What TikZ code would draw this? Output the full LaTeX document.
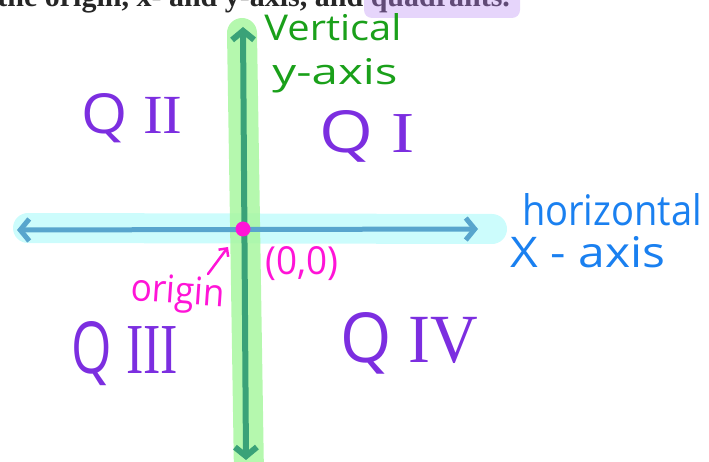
\documentclass[tikz,border=0pt]{standalone}
\usepackage{fontspec}
\setmainfont{Liberation Serif}
\newfontfamily\hand{Open Sans}
\usetikzlibrary{arrows.meta}
\definecolor{vhl}{RGB}{168,247,160}
\definecolor{hhl}{RGB}{204,252,252}
\definecolor{vline}{RGB}{58,162,120}
\definecolor{hline}{RGB}{88,165,205}
\definecolor{qpurple}{RGB}{124,46,224}
\definecolor{hgreen}{RGB}{26,160,26}
\definecolor{hblue}{RGB}{26,128,240}
\definecolor{hmag}{RGB}{255,20,215}
\definecolor{lavender}{RGB}{230,213,251}
\definecolor{quadtxt}{RGB}{96,74,118}
\newcommand\fitt[3]{\resizebox{#1pt}{#2pt}{#3}}
\begin{document}
\begin{tikzpicture}[x=1pt,y=-1pt,
  hlband/.style={line cap=round,line width=30pt},
  axisline/.style={line width=5pt,line cap=round,
    {Straight Barb[length=9pt,width=22pt]}-{Straight Barb[length=9pt,width=22pt]}},
  lbl/.style={inner sep=0pt,outer sep=0pt},
  quad/.style={lbl,text=qpurple},
]
\useasboundingbox (0,0) rectangle (709,462);
\clip (0,0) rectangle (709,462);

% heading (cut off at top)
\fill[lavender,rounded corners=8pt] (364,-20) rectangle (520,18);
\node[lbl,anchor=base east,font=\bfseries\fontsize{30}{32}\selectfont,text={black!85}] (head) at (510,7)
  {the origin, x- and y-axis, and \textcolor{quadtxt}{quadrants.}};

% coordinates of the axes
\coordinate (xl) at (17,230);
\coordinate (xr) at (478,229);
\coordinate (yt) at (243,27);
\coordinate (yb) at (246,460);
\coordinate (hl1) at (28,228);
\coordinate (hl2) at (492,229);
\coordinate (vl1) at (242,33);
\coordinate (vl2) at (249,475);

% highlights
\draw[hlband,hhl] (hl1) -- (hl2);
\draw[hlband,vhl,opacity=0.85] (vl1) -- (vl2);

% axes
\draw[axisline,hline] (xl) -- (xr);
\draw[axisline,vline,line width=6pt] (yb) -- (yt);

% origin
\node[circle,fill=hmag,minimum size=15pt,inner sep=0pt] (o) at (243,229) {};

% axis labels
\node[lbl,text=hgreen] (vert) at (333,27) {\fitt{137}{27}{\hand Vertical}};
\node[lbl,text=hgreen] (yax) at (335,76) {\fitt{125}{26}{\hand y-axis}};
\node[lbl,text=hblue] (horiz) at (612,210) {\fitt{180}{32}{\hand horizontal}};
\node[lbl,text=hblue] (xax) at (588,252) {\fitt{155}{31}{\hand X - axis}};

% origin labels
\node[lbl,text=hmag] (zz) at (302,264) {\fitt{73}{28}{\hand (0,0)}};
\node[lbl,text=hmag,rotate=-4] (orig) at (178,294) {\fitt{94}{28}{\hand origin}};
\coordinate (arrtail) at (208,274);
\coordinate (arrtip) at (228,247);
\draw[hmag,line width=2.5pt,line cap=round,-{Straight Barb[length=6pt,width=12pt]}]
  (arrtail) -- (arrtip);

% quadrant labels
\node[quad] (q2) at (132,118) {\fitt{101}{40}{\hand Q {\rmfamily II}}};
\node[quad] (q1) at (367,136) {\fitt{95}{42}{\hand Q {\rmfamily I}}};
\node[quad] (q3) at (125,354) {\fitt{106}{52}{\hand Q {\rmfamily III}}};
\node[quad] (q4) at (409,343) {\fitt{138}{50}{\hand Q {\rmfamily IV}}};
\end{tikzpicture}
\end{document}
